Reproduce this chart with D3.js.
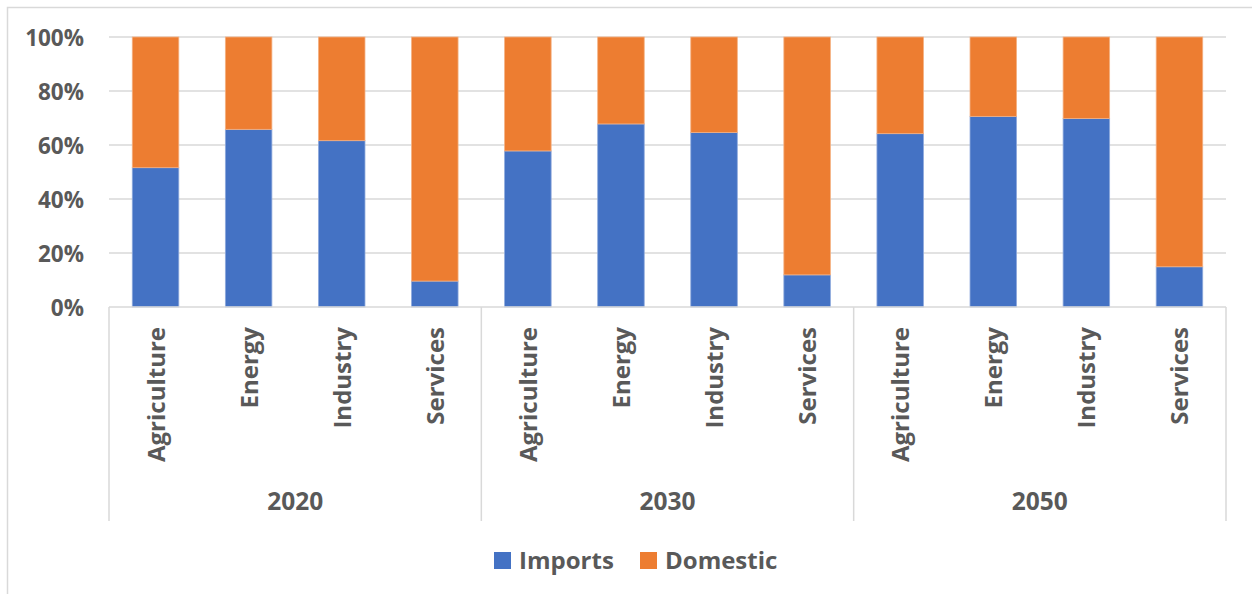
<!DOCTYPE html>
<html>
<head>
<meta charset="utf-8">
<script src="https://cdn.jsdelivr.net/npm/d3@7"></script>
<style>
  html, body { margin: 0; padding: 0; background: #fff; }
  svg { display: block; }
  text { font-family: "Open Sans", "Noto Sans", sans-serif; font-weight: 700; fill: #595959; }
</style>
</head>
<body>
<svg id="chart" width="1252" height="594"></svg>
<script>
// Share of supply by sector, stacked to 100%
const years = ["2020", "2030", "2050"];
const sectors = ["Agriculture", "Energy", "Industry", "Services"];
const imports = [
  51.6, 65.8, 61.6, 9.6,   // 2020
  57.8, 67.8, 64.6, 11.9,  // 2030
  64.2, 70.6, 69.8, 14.9   // 2050
];
const domestic = [
  48.4, 34.2, 38.4, 90.4,
  42.2, 32.2, 35.4, 88.1,
  35.8, 29.4, 30.2, 85.1
];
const yTicks = [0, 20, 40, 60, 80, 100];
const seriesNames = ["Imports", "Domestic"];
const seriesColors = ["#4472C4", "#ED7D31"];

const svg = d3.select("#chart");
const W = 1252, H = 594;
const m = { left: 109, right: 26, top: 37, bottom: 287 };
const x0 = m.left, x1 = W - m.right;
const y0 = H - m.bottom, y1 = m.top;

// frame
svg.append("rect")
  .attr("x", 7.5).attr("y", 7.5)
  .attr("width", W + 20).attr("height", H + 20)
  .attr("fill", "none").attr("stroke", "#d9d9d9").attr("stroke-width", 1.5);

// rows: one per year/sector pair
const rows = [];
years.forEach((yr, gi) => sectors.forEach((s, si) => {
  const i = gi * sectors.length + si;
  rows.push({ key: yr + "|" + s, year: yr, sector: s, Imports: imports[i], Domestic: domestic[i] });
}));

const x = d3.scaleBand().domain(rows.map(d => d.key)).range([x0, x1]).paddingInner(0.5).paddingOuter(0.25);
const y = d3.scaleLinear().domain([0, 100]).range([y0, y1]);

// gridlines
svg.append("g")
  .selectAll("line").data(yTicks.filter(t => t > 0)).join("line")
  .attr("x1", x0).attr("x2", x1)
  .attr("y1", d => y(d)).attr("y2", d => y(d))
  .attr("stroke", "#d9d9d9").attr("stroke-width", 1.5);

// y axis labels
const yAxis = d3.axisLeft(y).tickValues(yTicks).tickFormat(d => d + "%").tickSize(0).tickPadding(25);
const gy = svg.append("g").attr("transform", `translate(${x0},0)`).call(yAxis);
gy.select(".domain").remove();
gy.selectAll("text").attr("font-size", 22.5).style("font-family", null).attr("font-family", null).attr("fill", "#595959").attr("dy", "0.36em");

// stacked bars
const stack = d3.stack().keys(seriesNames)(rows);
svg.append("g").selectAll("g").data(stack).join("g")
  .attr("fill", (d, i) => seriesColors[i])
  .attr("stroke", (d, i) => i === 0 ? "#8faadc" : "#f4b183")
  .attr("stroke-width", 0.8)
  .selectAll("rect").data(d => d).join("rect")
  .attr("x", d => x(d.data.key))
  .attr("width", x.bandwidth())
  .attr("y", d => y(d[1]))
  .attr("height", d => y(d[0]) - y(d[1]));

// category axis line
svg.append("line")
  .attr("x1", x0).attr("x2", x1).attr("y1", y0).attr("y2", y0)
  .attr("stroke", "#d9d9d9").attr("stroke-width", 1.5);

// group separators
const groupW = (x1 - x0) / years.length;
const seps = d3.range(years.length + 1).map(i => x0 + i * groupW);
svg.append("g").selectAll("line").data(seps).join("line")
  .attr("x1", d => d).attr("x2", d => d)
  .attr("y1", y0).attr("y2", 521)
  .attr("stroke", "#d9d9d9").attr("stroke-width", 1.5);

// sector labels (rotated)
svg.append("g").selectAll("text").data(rows).join("text")
  .attr("transform", d => `translate(${x(d.key) + x.bandwidth() / 2 + 9},${y0 + 20}) rotate(-90)`)
  .attr("text-anchor", "end")
  .attr("font-size", 24)
  .text(d => d.sector);

// year labels
svg.append("g").selectAll("text").data(years).join("text")
  .attr("x", (d, i) => x0 + (i + 0.5) * groupW)
  .attr("y", 510)
  .attr("text-anchor", "middle")
  .attr("font-size", 24.5)
  .text(d => d);

// legend
const legend = svg.append("g");
const items = [{ name: seriesNames[0], color: seriesColors[0], sx: 494 }, { name: seriesNames[1], color: seriesColors[1], sx: 640 }];
items.forEach(it => {
  legend.append("rect").attr("x", it.sx).attr("y", 552).attr("width", 17).attr("height", 17).attr("fill", it.color);
  legend.append("text").attr("x", it.sx + 25).attr("y", 569).attr("font-size", 24).text(it.name);
});
</script>
</body>
</html>
